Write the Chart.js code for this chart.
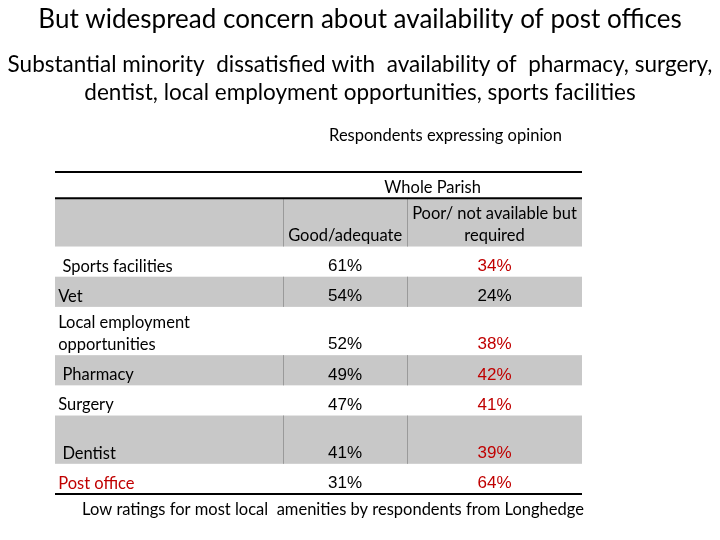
<!DOCTYPE html>
<html>
<head>
<meta charset="utf-8">
<script src="https://cdn.jsdelivr.net/npm/chart.js@4.4.1/dist/chart.umd.min.js"></script>
<style>
  html, body { margin: 0; padding: 0; background: #fff; }
  #wrap { width: 720px; height: 540px; }
</style>
</head>
<body>
<div id="wrap"><canvas id="tableChart"></canvas></div>
<script>
// ---- data ----
const titleText = 'But widespread concern about availability of post offices';
const subtitleLines = [
  'Substantial minority  dissatisfied with  availability of  pharmacy, surgery,',
  'dentist, local employment opportunities, sports facilities'
];
const captionText = 'Respondents expressing opinion';
const groupLabel = 'Whole Parish';
const columnLabels = [['Good/adequate'], ['Poor/ not available but', 'required']];
const rowLabels = [
  [' Sports facilities'],
  ['Vet'],
  ['Local employment', 'opportunities'],
  [' Pharmacy'],
  ['Surgery'],
  ['', ' Dentist'],
  ['Post office']
];
const goodValues = [61, 54, 52, 49, 47, 41, 31];
const poorValues = [34, 24, 38, 42, 41, 39, 64];
const highlightRow = 'Post office';
const concernThreshold = 30;
const footerText = 'Low ratings for most local  amenities by respondents from Longhedge';

// ---- layout ----
const GREY = '#c8c8c8';
const RED = '#c00000';
const SEP = '#9a9a9a';
const LABEL_FONT = '16.5px Lato';
const VALUE_FONT = '17px "Liberation Sans", Arial, sans-serif';
const TABLE_LEFT = 55, TABLE_RIGHT = 582, TABLE_TOP = 172, TABLE_BOTTOM = 494;
const CANVAS_W = 720, CANVAS_H = 540;
const COL_EDGES = [0, 43.3, 66.8, 100];   // percent of table width
const PARISH_UNITS = 1.45;
const LINE_UNITS = 1.22;
const BASE_OFFSET = 0.58;

const rowUnits = lines => lines + 2 / 3;
const headerUnits = rowUnits(Math.max(...columnLabels.map(c => c.length)));
const bounds = [0, PARISH_UNITS, PARISH_UNITS + headerUnits];
rowLabels.forEach(l => bounds.push(bounds[bounds.length - 1] + rowUnits(l.length)));
const totalUnits = bounds[bounds.length - 1];

const tableW = TABLE_RIGHT - TABLE_LEFT;
const xMin = -TABLE_LEFT / tableW * 100;
const xMax = 100 + (CANVAS_W - TABLE_RIGHT) / tableW * 100;
const yMax = totalUnits * (CANVAS_H - TABLE_TOP) / (TABLE_BOTTOM - TABLE_TOP);

const colCenter = c => (COL_EDGES[c] + COL_EDGES[c + 1]) / 2;
const lineY = (bottom, n, j) => bottom - BASE_OFFSET - (n - 1 - j) * LINE_UNITS;
const rowTextY = i => lineY(bounds[i + 3], 1, 0);

const tablePlugin = {
  id: 'tableCells',
  beforeDatasetsDraw(chart) {
    const { ctx, scales: { x, y } } = chart;
    const left = x.getPixelForValue(0), right = x.getPixelForValue(100);
    const sepX = [COL_EDGES[1], COL_EDGES[2]].map(v => Math.round(x.getPixelForValue(v)) + 0.5);
    ctx.save();
    const shade = (top, bottom) => {
      const t = y.getPixelForValue(top), b = y.getPixelForValue(bottom);
      ctx.fillStyle = GREY;
      ctx.fillRect(left, t, right - left, b - t);
      ctx.strokeStyle = SEP;
      ctx.lineWidth = 1;
      sepX.forEach(px => {
        ctx.beginPath(); ctx.moveTo(px, t); ctx.lineTo(px, b); ctx.stroke();
      });
    };
    shade(bounds[1], bounds[2]);
    rowLabels.forEach((_, i) => { if (i % 2 === 1) shade(bounds[i + 2], bounds[i + 3]); });

    ctx.strokeStyle = '#000';
    ctx.lineWidth = 2;
    [bounds[0], bounds[1], totalUnits].forEach(v => {
      const py = y.getPixelForValue(v);
      ctx.beginPath(); ctx.moveTo(left, py); ctx.lineTo(right, py); ctx.stroke();
    });
    ctx.restore();
  },
  afterDatasetsDraw(chart) {
    const { ctx, chartArea, scales: { x, y } } = chart;
    ctx.save();
    ctx.textBaseline = 'middle';
    ctx.fillStyle = '#000';
    ctx.font = LABEL_FONT;

    // caption above the table
    ctx.textAlign = 'center';
    ctx.fillText(captionText, x.getPixelForValue(74.1), chartArea.top - 36);

    // group header
    ctx.fillText(groupLabel, x.getPixelForValue((COL_EDGES[1] + COL_EDGES[3]) / 2),
      y.getPixelForValue(lineY(bounds[1], 1, 0)));

    // column headers
    columnLabels.forEach((lines, c) => {
      lines.forEach((t, j) => {
        ctx.fillText(t, x.getPixelForValue(colCenter(c + 1)),
          y.getPixelForValue(lineY(bounds[2], lines.length, j)));
      });
    });

    // row labels
    ctx.textAlign = 'left';
    rowLabels.forEach((lines, i) => {
      ctx.fillStyle = lines.join('').trim() === highlightRow ? RED : '#000';
      lines.forEach((t, j) => {
        ctx.fillText(t, x.getPixelForValue(0.6),
          y.getPixelForValue(lineY(bounds[i + 3], lines.length, j)));
      });
    });

    // values at the dataset points
    ctx.textAlign = 'center';
    ctx.font = VALUE_FONT;
    chart.data.datasets.forEach((ds, d) => {
      chart.getDatasetMeta(d).data.forEach((pt, i) => {
        const v = ds.values[i];
        ctx.fillStyle = (d === 1 && v >= concernThreshold) ? RED : '#000';
        ctx.fillText(v + '%', pt.x, pt.y);
      });
    });

    // footer
    ctx.fillStyle = '#000';
    ctx.font = LABEL_FONT;
    ctx.fillText(footerText, x.getPixelForValue(52.75), y.getPixelForValue(totalUnits) + 16);
    ctx.restore();
  }
};

new Chart(document.getElementById('tableChart'), {
  type: 'scatter',
  data: {
    datasets: [
      {
        label: columnLabels[0].join(' '),
        values: goodValues,
        data: goodValues.map((v, i) => ({ x: colCenter(1), y: rowTextY(i) })),
        pointRadius: 0, pointHoverRadius: 0
      },
      {
        label: columnLabels[1].join(' '),
        values: poorValues,
        data: poorValues.map((v, i) => ({ x: colCenter(2), y: rowTextY(i) })),
        pointRadius: 0, pointHoverRadius: 0
      }
    ]
  },
  options: {
    responsive: true,
    maintainAspectRatio: false,
    devicePixelRatio: 1,
    animation: false,
    layout: { padding: 0 },
    scales: {
      x: { type: 'linear', min: xMin, max: xMax, display: false },
      y: { type: 'linear', min: 0, max: yMax, reverse: true, display: false }
    },
    plugins: {
      legend: { display: false },
      tooltip: { enabled: false },
      title: {
        display: true,
        text: titleText,
        color: '#000',
        font: { family: 'Lato', size: 26, weight: 'normal', lineHeight: 1.2 },
        padding: { top: 4.4, bottom: 0 }
      },
      subtitle: {
        display: true,
        text: subtitleLines,
        color: '#000',
        font: { family: 'Lato', size: 22.5, weight: 'normal', lineHeight: 1.244 },
        padding: { top: 15.4, bottom: 65 }
      }
    }
  },
  plugins: [tablePlugin]
});
</script>
</body>
</html>
